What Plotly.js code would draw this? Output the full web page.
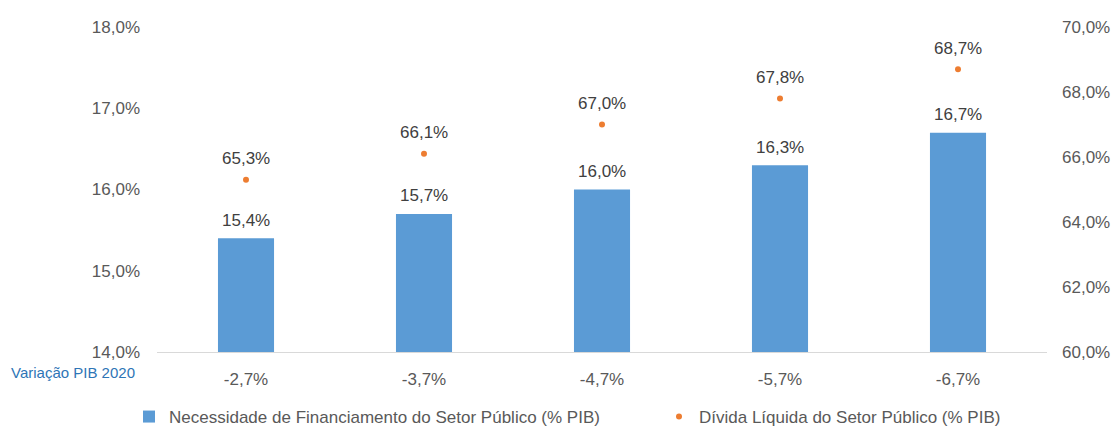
<!DOCTYPE html>
<html>
<head>
<meta charset="utf-8">
<script src="https://cdn.plot.ly/plotly-3.0.1.min.js"></script>
<style>html,body{margin:0;padding:0;background:#fff;}#chart{width:1117px;height:427px;}</style>
</head>
<body>
<div id="chart"></div>
<script>
const categories = ['-2,7%', '-3,7%', '-4,7%', '-5,7%', '-6,7%'];
const nfspValues = [15.4, 15.7, 16.0, 16.3, 16.7];
const dividaValues = [65.3, 66.1, 67.0, 67.8, 68.7];
const leftTicks = [14, 15, 16, 17, 18];
const rightTicks = [60, 62, 64, 66, 68, 70];
const nfspName = 'Necessidade de Financiamento do Setor Público (% PIB)';
const dividaName = 'Dívida Líquida do Setor Público (% PIB)';
const xAxisLabel = 'Variação PIB 2020';

const fmt = v => v.toFixed(1).replace('.', ',') + '%';
const font = 'Liberation Sans, Arial, sans-serif';
const txtColor = '#595959';
const lblColor = '#404040';

// plot area in pixels (for converting pixel offsets to paper units)
const W = 1117, H = 427, L = 157, R = 70, T = 27, B = 75;
const PW = W - L - R, PH = H - T - B;
const px = x => (x - L) / PW;
const py = y => (H - B - y) / PH;

const traces = [
  {
    type: 'bar', x: categories, y: nfspValues, name: nfspName,
    marker: {color: '#5B9BD5'}, width: 0.315, yaxis: 'y', legend: 'legend',
    hoverinfo: 'skip'
  },
  {
    type: 'scatter', mode: 'markers', x: categories, y: dividaValues, name: dividaName,
    marker: {color: '#ED7D31', size: 6}, yaxis: 'y2', legend: 'legend2',
    hoverinfo: 'skip'
  }
];

const annotations = [];
categories.forEach((c, i) => {
  annotations.push({x: c, y: nfspValues[i], xref: 'x', yref: 'y', text: fmt(nfspValues[i]),
    showarrow: false, yanchor: 'middle', yshift: 18, font: {family: font, size: 17, color: lblColor}});
  annotations.push({x: c, y: dividaValues[i], xref: 'x', yref: 'y2', text: fmt(dividaValues[i]),
    showarrow: false, yanchor: 'middle', yshift: 21, font: {family: font, size: 17, color: lblColor}});
});
annotations.push({x: px(137), y: py(373), xref: 'paper', yref: 'paper', text: xAxisLabel, showarrow: false,
  xanchor: 'right', yanchor: 'middle', font: {family: font, size: 15, color: '#2E75B6'}});

const tickFont = {family: font, size: 17, color: txtColor};

const layout = {
  width: W, height: H,
  margin: {l: L, r: R, t: T, b: B, autoexpand: false},
  paper_bgcolor: '#ffffff', plot_bgcolor: '#ffffff',
  separators: ',.',
  font: {family: font, size: 17, color: txtColor},
  showlegend: true,
  xaxis: {
    type: 'category', showgrid: false, zeroline: false,
    showline: true, linecolor: '#d9d9d9', linewidth: 1,
    ticks: '', ticklabelstandoff: 12, tickfont: tickFont
  },
  yaxis: {
    range: [14, 18], tickvals: leftTicks, ticktext: leftTicks.map(fmt),
    showgrid: false, zeroline: false, showline: false, ticks: '',
    ticklabelstandoff: 16, tickfont: tickFont
  },
  yaxis2: {
    range: [60, 70], tickvals: rightTicks, ticktext: rightTicks.map(fmt),
    overlaying: 'y', side: 'right',
    showgrid: false, zeroline: false, showline: false, ticks: '',
    ticklabelstandoff: 14, tickfont: tickFont
  },
  legend: {
    orientation: 'h', x: px(129), xanchor: 'left', y: py(417), yanchor: 'middle',
    font: {family: font, size: 17, color: txtColor}, bgcolor: 'rgba(0,0,0,0)'
  },
  legend2: {
    orientation: 'h', x: px(659), xanchor: 'left', y: py(417), yanchor: 'middle',
    font: {family: font, size: 17, color: txtColor}, bgcolor: 'rgba(0,0,0,0)'
  },
  annotations: annotations
};

Plotly.newPlot('chart', traces, layout, {displayModeBar: false, staticPlot: true});
</script>
</body>
</html>
